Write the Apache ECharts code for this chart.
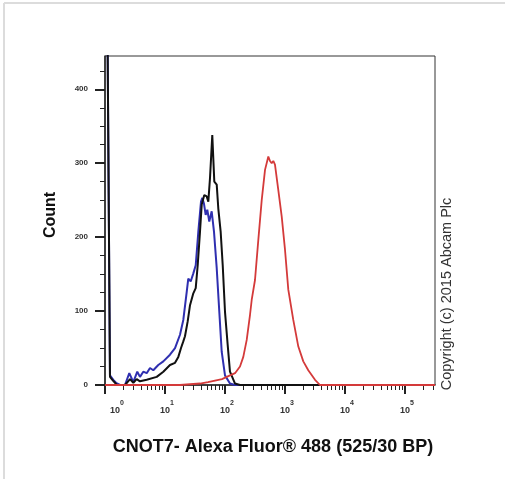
<!DOCTYPE html>
<html>
<head>
<meta charset="utf-8">
<script src="https://cdn.jsdelivr.net/npm/echarts@6/dist/echarts.min.js"></script>
<style>html,body{margin:0;padding:0;background:#fff;}#c{width:505px;height:479px;}</style>
</head>
<body>
<div id="c"></div>
<script>
// x values are in decades (log10 of fluorescence)
const decadeTicks = [0, 1, 2, 3, 4, 5];
const countTicks = [0, 100, 200, 300, 400];

const blueX = [0.04, 0.083, 0.138, 0.183, 0.25, 0.333, 0.405, 0.472, 0.538, 0.583, 0.638, 0.695, 0.75, 0.805, 0.888, 0.972, 1.083, 1.167, 1.25, 1.305, 1.362, 1.388, 1.428, 1.472, 1.512, 1.555, 1.6, 1.622, 1.65, 1.678, 1.705, 1.738, 1.778, 1.817, 1.862, 1.905, 1.945, 2.0, 2.083, 2.167, 5.5];
const blueY = [500, 13, 7, 3, 0, 0, 16, 4, 18, 11, 18, 16, 23, 20, 27, 32, 41, 50, 68, 88, 126, 144, 140, 151, 162, 207, 248, 253, 245, 230, 237, 221, 235, 207, 158, 99, 45, 13, 2, 0, 0];

const blackX = [0.04, 0.083, 0.133, 0.2, 0.333, 0.417, 0.472, 0.528, 0.583, 0.695, 0.862, 0.972, 1.083, 1.167, 1.222, 1.267, 1.305, 1.333, 1.378, 1.417, 1.472, 1.512, 1.545, 1.583, 1.612, 1.655, 1.695, 1.722, 1.75, 1.788, 1.822, 1.862, 1.888, 1.928, 1.962, 2.0, 2.045, 2.083, 2.167, 2.25, 5.5];
const blackY = [500, 11, 6, 0, 0, 8, 3, 8, 5, 7, 11, 18, 27, 30, 38, 50, 59, 66, 86, 108, 124, 131, 162, 207, 244, 257, 255, 248, 280, 338, 275, 271, 239, 207, 162, 99, 54, 18, 2, 0, 0];

const redX = [0, 1.25, 1.417, 1.583, 1.717, 1.833, 1.95, 2.083, 2.167, 2.25, 2.305, 2.362, 2.417, 2.445, 2.5, 2.555, 2.612, 2.667, 2.722, 2.75, 2.778, 2.805, 2.833, 2.888, 2.945, 3.0, 3.055, 3.138, 3.222, 3.305, 3.388, 3.5, 3.583, 5.5];
const redY = [0, 0, 1, 2, 4, 6, 8, 13, 16, 25, 38, 61, 95, 115, 142, 196, 250, 291, 309, 303, 300, 303, 298, 264, 228, 183, 129, 88, 52, 32, 20, 7, 0, 0];

const xMin = 0, xMax = 5.5, yMin = 0, yMax = 445;

const minorX = [];
decadeTicks.forEach(function (d) {
  for (let m = 2; m <= 9; m++) {
    const v = d + Math.log10(m);
    if (v < xMax) minorX.push(v);
  }
});
const minorY = [];
for (let v = 25; v < yMax; v += 25) { if (v % 100 !== 0) minorY.push(v); }

function pairs(xs, ys) { return xs.map(function (x, i) { return [x, ys[i]]; }); }

const FONT = '"Liberation Sans", Arial, sans-serif';
const chart = echarts.init(document.getElementById('c'));
chart.setOption({
  animation: false,
  backgroundColor: '#fff',
  grid: { left: 105, right: 70, top: 56, bottom: 94, show: true, borderColor: '#333', borderWidth: 1 },
  xAxis: [{
    type: 'value', min: xMin, max: xMax, position: 'bottom',
    axisLine: { show: true, lineStyle: { color: '#222', width: 1.5 } },
    axisTick: { show: true, customValues: decadeTicks, length: 9, lineStyle: { color: '#222', width: 2 } },
    axisLabel: {
      show: true, customValues: decadeTicks, margin: 15, color: '#333', fontFamily: FONT,
      formatter: function (v) { return (v === 0 ? '{b0|10}' : '{b|10}') + '{e|' + v + '}'; },
      rich: {
        b: { fontSize: 9, fontWeight: 'bold', color: '#333', fontFamily: FONT, padding: [0, 0, 0, 4] },
        b0: { fontSize: 9, fontWeight: 'bold', color: '#333', fontFamily: FONT, padding: [0, 0, 0, 24] },
        e: { fontSize: 7, fontWeight: 'bold', color: '#333', fontFamily: FONT, padding: [0, 0, 14, 0] }
      }
    },
    splitLine: { show: false }
  }, {
    type: 'value', min: xMin, max: xMax, position: 'bottom', offset: 0,
    axisLine: { show: false },
    axisTick: { show: true, customValues: minorX, length: 5, lineStyle: { color: '#222', width: 1 } },
    axisLabel: { show: false },
    splitLine: { show: false }
  }],
  yAxis: [{
    type: 'value', min: yMin, max: yMax, position: 'left',
    axisLine: { show: true, lineStyle: { color: '#222', width: 1.5 } },
    axisTick: { show: true, customValues: countTicks, length: 10, lineStyle: { color: '#222', width: 2 } },
    axisLabel: { show: true, customValues: countTicks, margin: 17, fontSize: 8, fontWeight: 'bold', color: '#333', fontFamily: FONT },
    splitLine: { show: false }
  }, {
    type: 'value', min: yMin, max: yMax, position: 'left', offset: 0,
    axisLine: { show: false },
    axisTick: { show: true, customValues: minorY, length: 5, lineStyle: { color: '#222', width: 1 } },
    axisLabel: { show: false },
    splitLine: { show: false }
  }],
  series: [
    { type: 'line', name: 'blue', data: pairs(blueX, blueY), showSymbol: false, symbol: 'none', clip: true,
      lineStyle: { color: '#2f2fb0', width: 2 } },
    { type: 'line', name: 'black', data: pairs(blackX, blackY), showSymbol: false, symbol: 'none', clip: true,
      lineStyle: { color: '#111', width: 2 } },
    { type: 'line', name: 'red', data: pairs(redX, redY), showSymbol: false, symbol: 'none', clip: true,
      lineStyle: { color: '#d43a3a', width: 1.8 } }
  ],
  graphic: [
    { type: 'line', shape: { x1: 4, y1: 3, x2: 4, y2: 479 }, style: { stroke: '#dcdcdc', lineWidth: 2 } },
    { type: 'line', shape: { x1: 4, y1: 3, x2: 505, y2: 3 }, style: { stroke: '#dcdcdc', lineWidth: 2 } },
    { type: 'text', x: 273, y: 447, style: { text: 'CNOT7- Alexa Fluor® 488 (525/30 BP)', font: 'bold 18px ' + FONT, fill: '#111', align: 'center', verticalAlign: 'middle' } },
    { type: 'text', x: 51, y: 215, rotation: Math.PI / 2, style: { text: 'Count', font: 'bold 16px ' + FONT, fill: '#111', align: 'center', verticalAlign: 'middle' } },
    { type: 'text', x: 447, y: 294, rotation: Math.PI / 2, style: { text: 'Copyright (c) 2015 Abcam Plc', font: '14.5px ' + FONT, fill: '#333', align: 'center', verticalAlign: 'middle' } }
  ]
});
</script>
</body>
</html>
